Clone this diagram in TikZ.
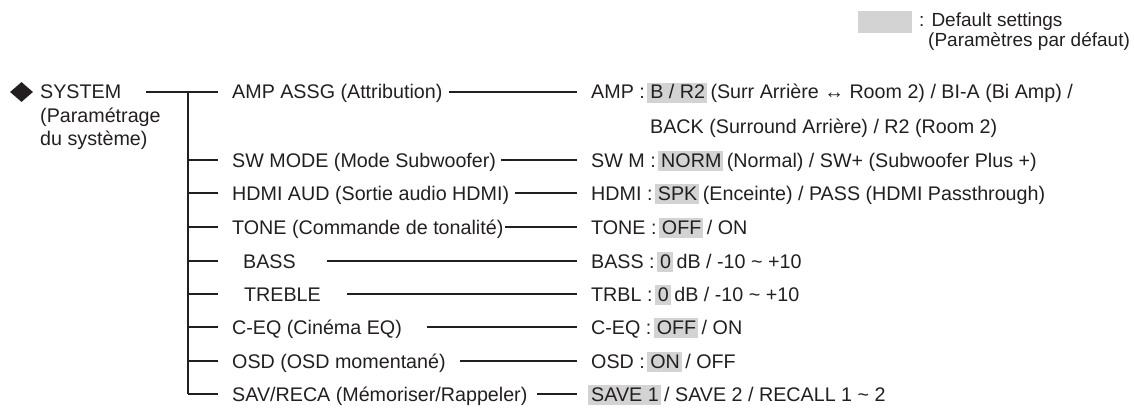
\documentclass[tikz,border=0pt]{standalone}
\usepackage{fontspec}
\setmainfont{Liberation Sans}
\usetikzlibrary{shapes.geometric}
\definecolor{hlgray}{RGB}{211,211,211}
\definecolor{ink}{RGB}{35,31,32}
\newcommand{\hlbox}[1]{\hspace{-3pt}{\setlength{\fboxsep}{0pt}\colorbox{hlgray}{\rule[-4pt]{0pt}{20pt}\hspace{3pt}#1\hspace{2pt}}}\hspace{-2pt}}
\begin{document}
\begin{tikzpicture}[x=1pt,y=-1pt,
  lab/.style={anchor=west, inner sep=0pt, text height=14pt, text depth=0pt, text=ink, font=\fontsize{19.7}{23}\selectfont},
  leg/.style={anchor=west, inner sep=0pt, text height=14pt, text depth=0pt, text=ink, font=\fontsize{19}{22}\selectfont},
  ln/.style={line width=1.3pt, draw=ink}]
\useasboundingbox (0,0) rectangle (1134,409);
% legend
\node[fill=hlgray, minimum width=54pt, minimum height=22pt, inner sep=0pt, anchor=north west] (legbox) at (858,11) {};
\node[leg] (leg1) at (919,20) {: Default settings};
\node[leg] (leg2) at (928,40) {(Paramètres par défaut)};
% root
\node[diamond, fill=ink, minimum width=23pt, minimum height=20pt, inner sep=0pt] (dia) at (21.5,92) {};
\node[lab] (sys) at (40,92) {SYSTEM};
\node[lab] (sys2) at (40,115) {(Paramétrage};
\node[lab] (sys3) at (40,138) {du système)};
% first column
\node[lab] (a1) at (232,92) {AMP ASSG (Attribution)};
\node[lab] (a2) at (232,160) {SW MODE (Mode Subwoofer)};
\node[lab] (a3) at (232,193) {HDMI AUD (Sortie audio HDMI)};
\node[lab] (a4) at (232,227) {TONE (Commande de tonalité)};
\node[lab] (a5) at (243,261) {BASS};
\node[lab] (a6) at (244,294) {TREBLE};
\node[lab] (a7) at (232,327) {C-EQ (Cinéma EQ)};
\node[lab] (a8) at (232,361) {OSD (OSD momentané)};
\node[lab] (a9) at (232,394) {SAV/RECA (Mémoriser/Rappeler)};
% second column
\node[lab] (b1) at (591,92) {AMP : \hlbox{B / R2} (Surr Arrière ↔ Room 2) / BI-A (Bi Amp) /};
\node[lab] (b1b) at (650,126) {BACK (Surround Arrière) / R2 (Room 2)};
\node[lab] (b2) at (591,160) {SW M : \hlbox{NORM} (Normal) / SW+ (Subwoofer Plus +)};
\node[lab] (b3) at (591,193) {HDMI : \hlbox{SPK} (Enceinte) / PASS (HDMI Passthrough)};
\node[lab] (b4) at (591,227) {TONE : \hlbox{OFF} / ON};
\node[lab] (b5) at (591,261) {BASS : \hlbox{0} dB / -10 \char"007E{} +10};
\node[lab] (b6) at (591,294) {TRBL : \hlbox{0} dB / -10 \char"007E{} +10};
\node[lab] (b7) at (591,327) {C-EQ : \hlbox{OFF} / ON};
\node[lab] (b8) at (591,361) {OSD : \hlbox{ON} / OFF};
\node[lab] (b9) at (591,394) {\hlbox{SAVE 1} / SAVE 2 / RECALL 1 \char"007E{} 2};
% tree
\coordinate (tr) at (188,0);
\draw[ln] ([xshift=25pt]sys.east) -- ([xshift=-14pt]a1.west);
\draw[ln] (tr |- a1.west) -- (tr |- a9.west);
\foreach \n in {a2,a3,a4,a5,a6,a7,a8,a9}
  \draw[ln] (tr |- \n.west) -- ++(30,0);
% connectors to values
\draw[ln] ([xshift=6pt]a1.east) -- ([xshift=-14pt]b1.west);
\draw[ln] ([xshift=5pt]a2.east) -- ([xshift=-14pt]b2.west);
\draw[ln] ([xshift=6pt]a3.east) -- ([xshift=-14pt]b3.west);
\draw[ln] ([xshift=1.5pt]a4.east) -- ([xshift=-14pt]b4.west);
\draw[ln] ([xshift=31pt]a5.east) -- ([xshift=-14pt]b5.west);
\draw[ln] ([xshift=26pt]a6.east) -- ([xshift=-14pt]b6.west);
\draw[ln] ([xshift=25pt]a7.east) -- ([xshift=-14pt]b7.west);
\draw[ln] ([xshift=14.5pt]a8.east) -- ([xshift=-14pt]b8.west);
\draw[ln] ([xshift=9.5pt]a9.east) -- ([xshift=-14pt]b9.west);
\end{tikzpicture}
\end{document}
